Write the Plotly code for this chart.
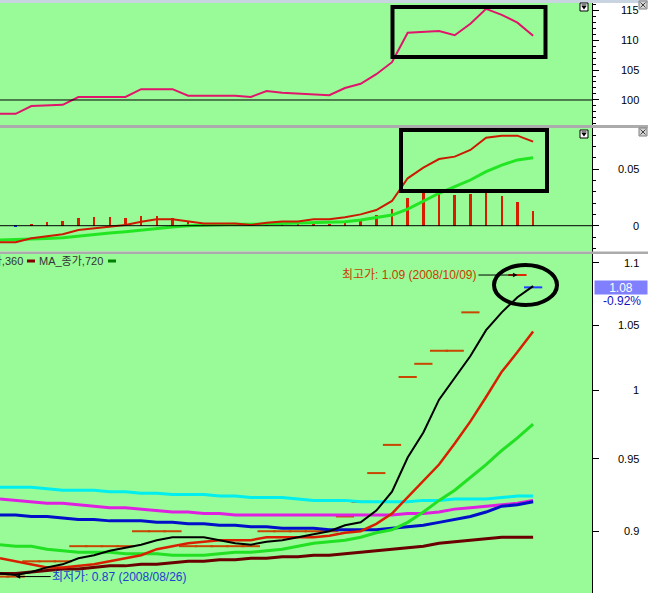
import math
import plotly.graph_objects as go

W, H = 648, 593
PLOT_R = 592
TOP = 3


def fx(px):
    return px / PLOT_R


def fy(py):
    return (H - py) / (H - TOP)


# ---------------- data ----------------
idx = list(range(35))

# panel 1 (relative strength style line)
rel_line = [97.7, 97.7, 99.0, 99.1, 99.2, 100.5, 100.5, 100.5, 100.5, 101.8, 101.8, 101.8,
            100.7, 100.7, 100.7, 100.7, 100.5, 101.5, 101.2, 101.1, 101.0, 100.8, 102.0, 102.7,
            104.3, 106.3, 111.2, 111.3, 111.5, 110.8, 112.7, 115.2, 114.2, 112.9, 110.7]

# panel 2 (MACD style)
macd_line = [-0.0146, -0.0146, -0.0111, -0.0094, -0.0076, -0.0038, -0.0023, -0.0009, 0.0006,
             0.0035, 0.0056, 0.0056, 0.0035, 0.0020, 0.0020, 0.0020, 0.0006, 0.0026, 0.0038,
             0.0038, 0.0056, 0.0056, 0.0074, 0.0100, 0.0138, 0.0218, 0.0418, 0.0512, 0.0588,
             0.0609, 0.0668, 0.0776, 0.0794, 0.0794, 0.0741]
signal_line = [-0.0126, -0.0123, -0.0120, -0.0113, -0.0106, -0.0091, -0.0076, -0.0065, -0.0053,
               -0.0038, -0.0023, -0.0012, 0.0000, 0.0006, 0.0012, 0.0012, 0.0012, 0.0015, 0.0018,
               0.0022, 0.0026, 0.0030, 0.0035, 0.0050, 0.0070, 0.0094, 0.0147, 0.0218, 0.0286,
               0.0344, 0.0403, 0.0476, 0.0535, 0.0580, 0.0600]
osc_bars = [None, -0.0015, 0.0015, 0.0030, 0.0040, 0.0068, 0.0074, 0.0074, 0.0070, 0.0088,
            0.0085, 0.0065, 0.0030, 0.0020, 0.0010, 0.0008, 0.0005, 0.0030, 0.0035, 0.0030,
            0.0030, 0.0015, 0.0035, 0.0050, 0.0094, 0.0147, 0.0247, 0.0290, 0.0290, 0.0270,
            0.0277, 0.0290, 0.0265, 0.0210, 0.0130]

# panel 3 (price + moving averages, log scale)
close_marks = [0.87, 0.87, 0.88, 0.88, 0.88, 0.89, 0.89, 0.89, 0.89, 0.90, 0.90, 0.90, 0.89, 0.89,
               0.89, 0.89, 0.89, 0.90, 0.90, 0.90, 0.90, 0.90, 0.91, 0.92, 0.94, 0.96, 1.01, 1.02,
               1.03, 1.03, 1.06, None, None, 1.09, 1.08]
ma_black = [0.872, 0.871, 0.873, 0.876, 0.878, 0.882, 0.884, 0.887, 0.889, 0.891, 0.894, 0.896,
            0.896, 0.896, 0.894, 0.892, 0.891, 0.893, 0.894, 0.896, 0.898, 0.900, 0.904, 0.906,
            0.914, 0.927, 0.951, 0.969, 0.993, 1.009, 1.026, 1.046, 1.060, 1.072, 1.081]
ma_red = [0.882, 0.880, 0.878, 0.876, 0.876, 0.877, 0.878, 0.880, 0.882, 0.884, 0.888, 0.890,
          0.892, 0.893, 0.894, 0.894, 0.894, 0.896, 0.896, 0.896, 0.896, 0.897, 0.899, 0.900,
          0.905, 0.912, 0.923, 0.934, 0.946, 0.961, 0.977, 0.995, 1.014, 1.029, 1.045]
ma_green = [0.891, 0.890, 0.890, 0.888, 0.887, 0.886, 0.886, 0.886, 0.885, 0.885, 0.885, 0.884,
            0.884, 0.884, 0.885, 0.886, 0.886, 0.887, 0.888, 0.890, 0.892, 0.893, 0.894, 0.896,
            0.899, 0.901, 0.906, 0.913, 0.921, 0.928, 0.937, 0.946, 0.956, 0.965, 0.975]
ma_cyan = [0.930, 0.930, 0.930, 0.929, 0.928, 0.928, 0.928, 0.927, 0.927, 0.926, 0.926, 0.925,
           0.925, 0.925, 0.924, 0.924, 0.923, 0.923, 0.923, 0.922, 0.921, 0.921, 0.921, 0.920,
           0.920, 0.920, 0.920, 0.921, 0.921, 0.922, 0.922, 0.922, 0.923, 0.924, 0.924]
ma_magenta = [0.922, 0.921, 0.920, 0.919, 0.919, 0.918, 0.917, 0.916, 0.916, 0.915, 0.914, 0.913,
              0.913, 0.912, 0.912, 0.911, 0.911, 0.911, 0.911, 0.911, 0.911, 0.911, 0.911, 0.911,
              0.911, 0.911, 0.912, 0.912, 0.913, 0.915, 0.916, 0.917, 0.918, 0.919, 0.921]
ma_blue = [0.911, 0.911, 0.910, 0.910, 0.909, 0.908, 0.908, 0.907, 0.907, 0.907, 0.906, 0.906,
           0.905, 0.905, 0.904, 0.904, 0.903, 0.903, 0.902, 0.902, 0.902, 0.901, 0.901, 0.901,
           0.901, 0.902, 0.903, 0.904, 0.906, 0.908, 0.910, 0.913, 0.917, 0.918, 0.920]
ma_brown = [0.872, 0.872, 0.873, 0.874, 0.875, 0.875, 0.876, 0.877, 0.877, 0.878, 0.878, 0.879,
            0.880, 0.880, 0.881, 0.881, 0.882, 0.882, 0.883, 0.883, 0.884, 0.884, 0.885, 0.886,
            0.887, 0.888, 0.889, 0.890, 0.892, 0.893, 0.894, 0.895, 0.896, 0.896, 0.896]

p1_ticks = [100, 105, 110, 115]
p2_ticks = [0, 0.05]
p3_ticks = [0.9, 0.95, 1, 1.05, 1.1]
p1_labels = ["100", "105", "110", "115"]
p2_labels = ["0", "0.05"]
p3_labels = ["0.9", "0.95", "1", "1.05", "1.1"]

high_text = "최고가: 1.09 (2008/10/09)"
low_text = "최저가: 0.87 (2008/08/26)"
last_price = "1.08"
last_change = "-0.92%"
legend_a = "MA_종가,360"
legend_b = "MA_종가,720"

# ---------------- figure ----------------
fig = go.Figure()

fig.add_trace(go.Scatter(x=idx, y=rel_line, mode="lines", line=dict(color="#e0146a", width=2),
                         xaxis="x", yaxis="y"))

bar_colors = ["#0030e0" if (v is not None and v < 0) else "#d81c00" for v in osc_bars]
fig.add_trace(go.Bar(x=idx, y=osc_bars, width=0.16, marker=dict(color=bar_colors, line=dict(width=0)),
                     xaxis="x2", yaxis="y2"))
fig.add_trace(go.Scatter(x=idx, y=signal_line, mode="lines", line=dict(color="#22e622", width=3),
                         xaxis="x2", yaxis="y2"))
fig.add_trace(go.Scatter(x=idx, y=macd_line, mode="lines", line=dict(color="#cc1a00", width=2),
                         xaxis="x2", yaxis="y2"))

n = len(close_marks)
reg = [v if i < n - 2 else None for i, v in enumerate(close_marks)]
hi = [v if i == n - 2 else None for i, v in enumerate(close_marks)]
lo = [v if i == n - 1 else None for i, v in enumerate(close_marks)]
for vals, col in [(reg, "#c84600"), (hi, "#e02800"), (lo, "#2040ff")]:
    fig.add_trace(go.Scatter(x=idx, y=vals, mode="markers",
                             marker=dict(symbol="line-ew", size=13, line=dict(color=col, width=2)),
                             xaxis="x3", yaxis="y3"))

for vals, col, w in [(ma_cyan, "#00eeee", 3), (ma_magenta, "#e020e0", 3), (ma_blue, "#0010c8", 3),
                     (ma_brown, "#6a0000", 3), (ma_green, "#22e022", 3), (ma_red, "#d82000", 2.5),
                     (ma_black, "#000000", 2)]:
    fig.add_trace(go.Scatter(x=idx, y=vals, mode="lines", line=dict(color=col, width=w),
                             xaxis="x3", yaxis="y3"))

# ---------------- axes ----------------
xr = [0, PLOT_R / 15.68]
xcommon = dict(range=xr, visible=False, showgrid=False, zeroline=False, domain=[0, 1])
ycommon = dict(side="right", showline=True, linecolor="black", linewidth=1, ticks="outside",
               ticklen=6, tickcolor="black", showticklabels=False, showgrid=False, zeroline=False)

fig.update_layout(
    width=W, height=H, margin=dict(l=0, r=W - PLOT_R, t=TOP, b=0),
    paper_bgcolor="white", plot_bgcolor="#98fb98", showlegend=False, bargap=0,
    xaxis=dict(anchor="y", **xcommon),
    xaxis2=dict(anchor="y2", **xcommon),
    xaxis3=dict(anchor="y3", **xcommon),
    yaxis=dict(anchor="x", domain=[fy(125), 1], range=[95.83, 116.17], tickvals=p1_ticks,
               minor=dict(ticks="outside", ticklen=3, tickcolor="black", dtick=1, tick0=0), **ycommon),
    yaxis2=dict(anchor="x2", domain=[fy(251.5), fy(128)], range=[-0.02276, 0.08617], tickvals=p2_ticks,
                minor=dict(ticks="outside", ticklen=3, tickcolor="black", dtick=0.01, tick0=0), **ycommon),
    yaxis3=dict(anchor="x3", type="log", domain=[0, fy(254)], range=[-0.06581, 0.04425],
                tickvals=p3_ticks, **ycommon),
)

# ---------------- shapes ----------------
shapes = []
shapes.append(dict(type="rect", xref="paper", yref="paper", x0=0, x1=fx(W), y0=fy(3), y1=fy(0),
                   fillcolor="#c8d4e0", line=dict(width=0), layer="above"))
for a, b in [(125, 128), (251.5, 254)]:
    shapes.append(dict(type="rect", xref="paper", yref="paper", x0=0, x1=fx(W), y0=fy(b), y1=fy(a),
                       fillcolor="#ababab", line=dict(width=0), layer="above"))
shapes.append(dict(type="line", xref="x domain", yref="y", x0=0, x1=1, y0=100, y1=100,
                   line=dict(color="black", width=1)))
shapes.append(dict(type="line", xref="x2 domain", yref="y2", x0=0, x1=1, y0=0, y1=0,
                   line=dict(color="black", width=1)))
shapes.append(dict(type="rect", xref="paper", yref="paper", x0=fx(392.5), x1=fx(545.5), y0=fy(57), y1=fy(7),
                   line=dict(color="black", width=4)))
shapes.append(dict(type="rect", xref="paper", yref="paper", x0=fx(401), x1=fx(547), y0=fy(191), y1=fy(130),
                   line=dict(color="black", width=4)))
shapes.append(dict(type="circle", xref="paper", yref="paper", x0=fx(494), x1=fx(557), y0=fy(305), y1=fy(265),
                   line=dict(color="black", width=4)))
shapes.append(dict(type="rect", xref="paper", yref="paper", x0=fx(27), x1=fx(35), y0=fy(262.5), y1=fy(259.5),
                   fillcolor="#800000", line=dict(width=0)))
shapes.append(dict(type="rect", xref="paper", yref="paper", x0=fx(108), x1=fx(116), y0=fy(262.5), y1=fy(259.5),
                   fillcolor="#008000", line=dict(width=0)))
for top in (3, 130):
    shapes.append(dict(type="rect", xref="paper", yref="paper", x0=fx(580), x1=fx(588), y0=fy(top + 8), y1=fy(top),
                       fillcolor="white", line=dict(color="black", width=1)))
    shapes.append(dict(type="path", xref="paper", yref="paper",
                       path=f"M {fx(581.5)},{fy(top + 3)} L {fx(586.5)},{fy(top + 3)} L {fx(584)},{fy(top + 6.5)} Z",
                       fillcolor="black", line=dict(width=0)))
    shapes.append(dict(type="line", xref="paper", yref="paper", x0=fx(581.5), x1=fx(586.5),
                       y0=fy(top + 2), y1=fy(top + 2), line=dict(color="black", width=1)))
for top in (1, 128):
    shapes.append(dict(type="rect", xref="paper", yref="paper", x0=fx(639), x1=fx(647), y0=fy(top + 8), y1=fy(top),
                       fillcolor="#d4d4d4", line=dict(color="#808080", width=1)))
    shapes.append(dict(type="line", xref="paper", yref="paper", x0=fx(640.5), x1=fx(645.5),
                       y0=fy(top + 1.5), y1=fy(top + 6.5), line=dict(color="#404040", width=1)))
    shapes.append(dict(type="line", xref="paper", yref="paper", x0=fx(640.5), x1=fx(645.5),
                       y0=fy(top + 6.5), y1=fy(top + 1.5), line=dict(color="#404040", width=1)))
fig.update_layout(shapes=shapes)

# ---------------- annotations ----------------
FONT = "Liberation Sans, Arial, Noto Sans CJK KR"
ann = []
for yref, vals, labs, logy in [("y", p1_ticks, p1_labels, False), ("y2", p2_ticks, p2_labels, False),
                                ("y3", p3_ticks, p3_labels, True)]:
    for v, t in zip(vals, labs):
        ann.append(dict(xref="paper", x=fx(641), xanchor="right", yref=yref,
                        y=math.log10(v) if logy else v, yanchor="middle", text=t, showarrow=False,
                        font=dict(family=FONT, size=11, color="black")))

ann.append(dict(xref="x3", yref="y3", x=33, y=math.log10(1.09), text=high_text, showarrow=True,
                ax=-108, ay=0, axref="pixel", ayref="pixel", arrowhead=2, arrowsize=0.9, arrowwidth=1,
                arrowcolor="black", font=dict(family=FONT, size=12, color="#cc3a00")))
ann.append(dict(xref="x3", yref="y3", x=1, y=math.log10(0.87), text=low_text, showarrow=True,
                ax=104, ay=0, axref="pixel", ayref="pixel", arrowhead=2, arrowsize=0.9, arrowwidth=1,
                arrowcolor="black", font=dict(family=FONT, size=12, color="#2040d0")))
ann.append(dict(xref="paper", x=fx(621), xanchor="center", yref="y3", y=math.log10(1.08), yanchor="middle",
                text=last_price, showarrow=False, bgcolor="#8080ff", width=50, height=11, borderpad=1,
                font=dict(family=FONT, size=12, color="white")))
ann.append(dict(xref="paper", x=fx(622), xanchor="center", yref="paper", y=fy(301), yanchor="middle",
                text=last_change, showarrow=False, font=dict(family=FONT, size=12, color="#1010c0")))
ann.append(dict(xref="paper", x=fx(25), xanchor="right", yref="paper", y=fy(261), yanchor="middle",
                text=legend_a, showarrow=False, font=dict(family=FONT, size=11, color="#333333")))
ann.append(dict(xref="paper", x=fx(37), xanchor="left", yref="paper", y=fy(261), yanchor="middle",
                text=legend_b, showarrow=False, font=dict(family=FONT, size=11, color="#333333")))
fig.update_layout(annotations=ann)

fig.write_html("out.html", config={"displayModeBar": False},
               post_script="document.body.style.margin='0';")
